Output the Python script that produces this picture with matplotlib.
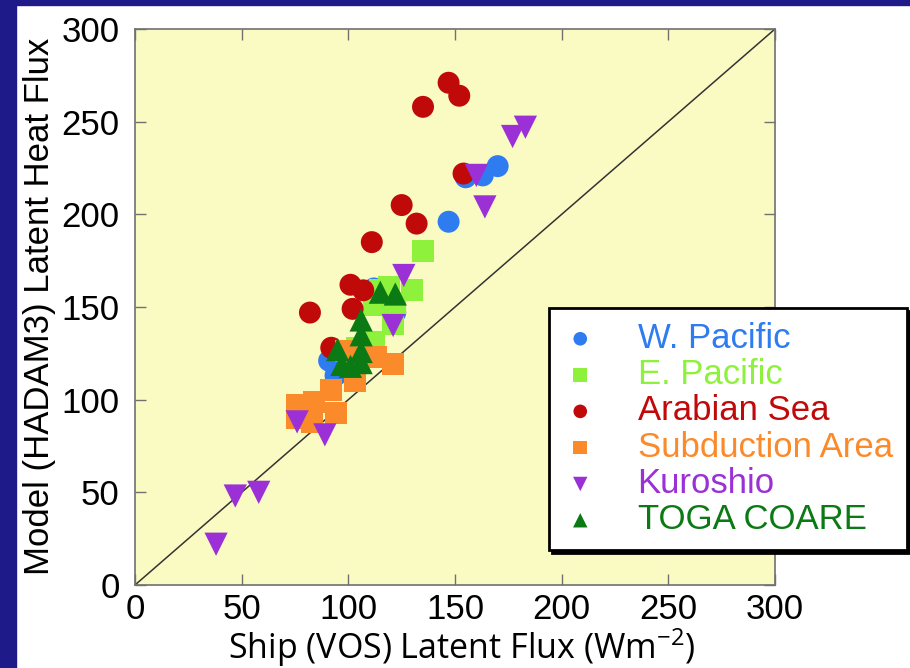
import numpy as np
import matplotlib.pyplot as plt
from matplotlib.patches import Rectangle

plt.rcParams['font.family'] = ['Liberation Sans', 'DejaVu Sans']
plt.rcParams['mathtext.fontset'] = 'custom'
plt.rcParams['mathtext.rm'] = 'Open Sans'
plt.rcParams['mathtext.default'] = 'rm'

# Data (ship flux, model flux) in W m-2
wpac_x = [83, 91, 94, 112, 122, 147, 155, 163, 170]
wpac_y = [93, 121, 113, 160, 147, 196, 220, 221, 226]

epac_x = [104, 112, 112, 115, 119, 121, 122, 130, 135]
epac_y = [128, 131, 151, 159, 161, 141, 152, 159, 180]

arab_x = [82, 92, 101, 107, 102, 111, 125, 132, 135, 147, 152, 154]
arab_y = [147, 128, 162, 159, 149, 185, 205, 195, 258, 271, 264, 222]

subd_x = [76, 76, 83, 84, 92, 94, 103, 99, 113, 121]
subd_y = [97, 90, 88, 99, 105, 93, 110, 126, 123, 119]

kuro_x = [38, 47, 58, 76, 89, 121, 126, 160, 164, 177, 183]
kuro_y = [22, 48, 50, 88, 81, 140, 167, 221, 204, 242, 247]

toga_x = [95, 97, 101, 106, 106, 106, 106, 115, 122]
toga_y = [127, 119, 118, 120, 126, 135, 143, 158, 157]

series = [
    ("W. Pacific", wpac_x, wpac_y, "o", "#2f7bf0"),
    ("E. Pacific", epac_x, epac_y, "s", "#8ef23c"),
    ("Arabian Sea", arab_x, arab_y, "o", "#c00a0a"),
    ("Subduction Area", subd_x, subd_y, "s", "#fb8a2a"),
    ("Kuroshio", kuro_x, kuro_y, "v", "#9a30d6"),
    ("TOGA COARE", toga_x, toga_y, "^", "#0c7a14"),
]
ticks = [0, 50, 100, 150, 200, 250, 300]

W, H = 910, 668
fig = plt.figure(figsize=(W / 100, H / 100), dpi=100)
fig.patch.set_facecolor("white")

# dark blue slide border (left and top)
fig.patches.append(Rectangle((0, 0), 16 / W, 1, transform=fig.transFigure,
                             color="#1f1a8a", zorder=0))
fig.patches.append(Rectangle((0, 1 - 5 / H), 1, 5 / H, transform=fig.transFigure,
                             color="#1f1a8a", zorder=0))

ax = fig.add_axes([135 / W, 1 - 585 / H, 640 / W, 556 / H])
ax.set_facecolor("#fafbc3")

ax.plot([0, 300], [0, 300], color="#333333", lw=1.1, zorder=1)

handles = []
for name, xs, ys, mk, col in series:
    sz = 250 if mk in "os" else 280
    h = ax.scatter(xs, ys, s=sz, marker=mk, color=col, edgecolors="none",
                   label=name, zorder=2)
    handles.append(h)

ax.set_xlim(0, 300)
ax.set_ylim(0, 300)
ax.set_xticks(ticks)
ax.set_yticks(ticks)
ax.tick_params(direction="in", length=8, width=1, color="#707070",
               top=True, right=True, labelsize=25)
ax.tick_params(axis="x", pad=6)
ax.tick_params(axis="y", pad=11)
for sp in ax.spines.values():
    sp.set_color("#707070")
    sp.set_linewidth(1.2)

fig.text(462 / W, 1 - 659 / H, r"Ship (VOS) Latent Flux (Wm$^{-2}$)",
         family="Open Sans", fontsize=24.5, ha="center", va="baseline")
fig.text(40 / W, 1 - 306 / H, "Model (HADAM3) Latent Heat Flux",
         fontsize=25, rotation=90, ha="center", va="center")

leg = fig.legend(handles=handles, loc="upper left",
                 bbox_to_anchor=(549 / W, 1 - 308 / H), borderaxespad=0,
                 fontsize=25, frameon=True, fancybox=False, framealpha=1,
                 edgecolor="black", facecolor="white", markerscale=0.62,
                 handlelength=1.0, handletextpad=1.15, borderpad=0.4,
                 labelspacing=0.095, shadow={"color": "black", "alpha": 1})
leg.get_frame().set_linewidth(2)
for txt, (name, xs, ys, mk, col) in zip(leg.get_texts(), series):
    txt.set_color(col)

fig.savefig("out.png", dpi=100)
